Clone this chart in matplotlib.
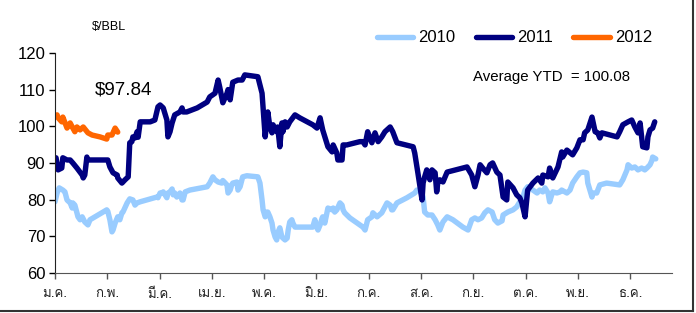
from matplotlib import pyplot as plt
from matplotlib import font_manager, ft2font
from matplotlib.lines import Line2D

# x positions are in months from the start of January (0 = ม.ค.)
months = ['ม.ค.', 'ก.พ.', 'มี.ค.', 'เม.ย.', 'พ.ค.', 'มิ.ย.',
          'ก.ค.', 'ส.ค.', 'ก.ย.', 'ต.ค.', 'พ.ย.', 'ธ.ค.']
years = ['2010', '2011', '2012']

x2010 = [0.00, 0.04, 0.08, 0.15, 0.19, 0.23, 0.29, 0.33, 0.34, 0.38, 0.44, 0.48, 0.52, 0.57, 0.63, 0.67,
         0.99, 1.01, 1.05, 1.09, 1.11, 1.15, 1.19, 1.20, 1.24, 1.28, 1.30, 1.38, 1.43, 1.49, 1.53, 1.57,
         1.63, 1.95, 1.97, 2.01, 2.05, 2.07, 2.14, 2.16, 2.20, 2.24, 2.26, 2.29, 2.33, 2.39, 2.43, 2.45,
         2.49, 2.58, 2.91, 2.96, 3.02, 3.06, 3.12, 3.19, 3.21, 3.29, 3.31, 3.35, 3.38, 3.40, 3.48, 3.50,
         3.54, 3.59, 3.67, 3.88, 3.92, 3.96, 3.98, 4.02, 4.05, 4.07, 4.11, 4.15, 4.17, 4.21, 4.24, 4.26,
         4.30, 4.34, 4.36, 4.40, 4.44, 4.46, 4.49, 4.53, 4.55, 4.59, 4.93, 4.97, 5.01, 5.03, 5.07, 5.11,
         5.12, 5.16, 5.20, 5.22, 5.30, 5.32, 5.35, 5.39, 5.45, 5.49, 5.51, 5.54, 5.64, 5.89, 5.93, 5.98,
         6.06, 6.08, 6.16, 6.25, 6.31, 6.35, 6.41, 6.44, 6.46, 6.54, 6.73, 6.88, 6.92, 6.98, 7.04, 7.07,
         7.13, 7.21, 7.27, 7.32, 7.36, 7.42, 7.50, 7.61, 7.80, 7.90, 7.97, 8.03, 8.09, 8.16, 8.22, 8.28,
         8.36, 8.41, 8.47, 8.55, 8.57, 8.66, 8.76, 8.83, 8.89, 8.95, 8.99, 9.04, 9.14, 9.22, 9.27, 9.33,
         9.37, 9.43, 9.46, 9.50, 9.52, 9.60, 9.66, 9.69, 9.79, 9.85, 9.90, 9.98, 10.04, 10.10, 10.17, 10.19,
         10.27, 10.29, 10.36, 10.42, 10.55, 10.80, 10.86, 10.94, 10.96, 11.03, 11.09, 11.15, 11.22, 11.28,
         11.32, 11.38, 11.42, 11.43, 11.49]
y2010 = [79.4, 81.8, 83.2, 82.6, 82.1, 79.9, 79.1, 77.7, 79.1, 78.5, 75.3, 74.5, 75.3, 73.9, 73.1, 74.5,
         77.2, 76.8, 74.5, 71.2, 71.7, 73.6, 75.0, 75.3, 74.5, 76.4, 76.6, 79.1, 80.2, 79.9, 78.5, 79.1,
         79.4, 80.7, 80.5, 81.8, 81.8, 82.1, 80.5, 81.8, 82.1, 82.9, 81.3, 81.8, 80.7, 81.8, 79.9, 79.9,
         82.1, 82.6, 83.5, 84.5, 86.2, 85.4, 84.8, 84.5, 85.2, 84.0, 81.8, 82.6, 84.0, 84.5, 84.8, 82.6,
         83.5, 86.2, 86.5, 86.2, 84.5, 79.9, 77.2, 75.3, 76.6, 76.6, 75.3, 73.6, 71.7, 69.8, 69.0, 70.9,
         72.3, 69.8, 69.5, 69.0, 69.5, 71.7, 73.9, 74.5, 73.6, 72.5, 72.5, 74.5, 72.3, 71.7, 73.1, 75.0,
         75.3, 73.6, 76.4, 77.7, 77.2, 77.7, 76.6, 77.2, 79.1, 78.5, 77.2, 76.4, 75.0, 72.5, 71.7, 74.5,
         75.3, 76.4, 75.3, 76.4, 78.0, 79.1, 78.5, 77.2, 77.2, 79.1, 80.5, 81.8, 82.6, 82.4, 80.7, 76.6,
         75.8, 75.8, 74.5, 73.1, 71.7, 73.9, 75.3, 74.5, 72.5, 71.7, 74.5, 75.0, 74.5, 75.0, 76.4, 77.2,
         76.6, 74.5, 73.6, 74.2, 75.8, 76.6, 77.2, 78.0, 79.4, 80.7, 82.6, 83.5, 82.6, 81.8, 82.6, 82.1,
         83.2, 81.8, 79.4, 81.3, 82.1, 81.8, 82.1, 82.6, 81.8, 82.6, 84.5, 86.2, 87.3, 87.5, 87.3, 84.5,
         80.7, 81.8, 81.8, 84.0, 84.5, 84.0, 85.4, 88.1, 89.5, 88.6, 88.9, 88.1, 88.6, 88.1,
         88.6, 89.5, 90.8, 91.6, 91.1]

x2011 = [0.02, 0.06, 0.13, 0.15, 0.23, 0.29, 0.34, 0.42, 0.52, 0.54, 0.57, 0.61, 0.63, 0.73, 1.01, 1.05,
         1.11, 1.19, 1.20, 1.28, 1.34, 1.40, 1.43, 1.47, 1.49, 1.53, 1.57, 1.59, 1.63, 1.82, 1.91, 1.97,
         2.01, 2.07, 2.14, 2.16, 2.20, 2.24, 2.29, 2.35, 2.39, 2.43, 2.45, 2.52, 2.72, 2.91, 2.96, 3.06,
         3.12, 3.15, 3.21, 3.29, 3.31, 3.35, 3.40, 3.50, 3.58, 3.63, 3.88, 3.96, 4.02, 4.07, 4.11, 4.15,
         4.17, 4.24, 4.26, 4.30, 4.34, 4.36, 4.40, 4.44, 4.49, 4.59, 4.68, 4.93, 5.01, 5.07, 5.12, 5.22,
         5.30, 5.32, 5.39, 5.41, 5.49, 5.51, 5.58, 5.83, 5.89, 5.93, 5.98, 6.06, 6.12, 6.18, 6.25, 6.31,
         6.41, 6.46, 6.54, 6.85, 6.88, 6.94, 7.02, 7.04, 7.07, 7.11, 7.17, 7.21, 7.27, 7.30, 7.32, 7.36,
         7.42, 7.50, 7.88, 7.97, 8.03, 8.09, 8.13, 8.18, 8.26, 8.32, 8.37, 8.45, 8.51, 8.57, 8.64, 8.66,
         8.76, 8.83, 8.89, 8.93, 8.99, 9.04, 9.14, 9.24, 9.31, 9.33, 9.43, 9.46, 9.52, 9.62, 9.69, 9.71,
         9.79, 9.90, 9.98, 10.04, 10.10, 10.13, 10.19, 10.27, 10.33, 10.38, 10.42, 10.46, 10.75, 10.80,
         10.86, 10.96, 11.03, 11.09, 11.15, 11.19, 11.22, 11.24, 11.32, 11.34, 11.38, 11.43, 11.47]
y2011 = [91.4, 88.1, 88.6, 91.4, 90.8, 90.8, 90.0, 88.6, 86.7, 85.9, 86.7, 91.6, 90.8, 90.8, 90.8, 88.9,
         87.3, 86.7, 85.9, 84.5, 85.4, 86.2, 95.5, 95.8, 97.1, 96.8, 98.5, 97.0, 101.2, 101.2, 101.7, 105.3,
         105.8, 105.0, 101.7, 97.1, 98.5, 100.9, 103.1, 103.6, 103.9, 105.0, 103.9, 103.9, 105.0, 106.6, 108.0, 109.0,
         112.6, 110.7, 106.4, 109.0, 110.0, 107.2, 112.0, 112.6, 112.6, 114.0, 113.5, 109.0, 97.1, 103.9, 99.8, 98.2,
         100.4, 98.5, 99.8, 94.4, 100.9, 98.5, 101.2, 99.8, 101.2, 103.1, 102.3, 100.4, 99.5, 102.3, 99.0, 94.4,
         93.0, 94.9, 92.7, 90.8, 90.8, 94.9, 94.9, 95.8, 95.8, 94.9, 98.5, 95.5, 98.2, 95.8, 97.1, 98.5,
         99.8, 98.5, 95.5, 94.4, 92.7, 87.3, 79.9, 84.5, 86.2, 88.1, 85.4, 88.1, 87.3, 82.1, 84.5, 85.4,
         84.8, 87.5, 88.9, 86.7, 83.5, 86.7, 89.5, 88.6, 87.3, 89.5, 90.0, 87.5, 86.7, 80.7, 79.9, 84.8,
         83.2, 81.3, 80.5, 79.1, 75.3, 82.6, 84.5, 85.9, 84.5, 86.7, 86.2, 88.6, 85.9, 88.9, 93.0, 91.6,
         93.5, 92.2, 94.1, 96.3, 96.3, 98.2, 99.0, 102.5, 98.5, 98.2, 96.8, 98.2, 97.1, 98.5,
         100.4, 101.2, 101.7, 99.8, 98.2, 100.9, 97.1, 94.4, 94.1, 97.1, 99.0, 99.5, 101.2]

x2012 = [0.04, 0.06, 0.13, 0.15, 0.23, 0.29, 0.33, 0.38, 0.42, 0.48, 0.54, 0.63, 0.71, 0.86, 0.99, 1.01,
         1.09, 1.15, 1.20]
y2012 = [103.1, 102.3, 101.2, 102.5, 99.5, 100.9, 99.8, 98.5, 99.8, 99.0, 99.8, 98.2, 97.6, 97.1, 96.5, 97.6,
         97.6, 99.5, 98.4]

colors = ['#99CCFF', '#000080', '#FF6600']


def thai_font():
    # pick any installed font that has Thai glyphs
    for f in font_manager.fontManager.ttflist:
        try:
            if 0x0E21 in ft2font.FT2Font(f.fname).get_charmap():
                return f.name
        except Exception:
            pass
    return 'DejaVu Sans'


plt.rcParams['font.family'] = ['Liberation Sans', 'DejaVu Sans']
thai = thai_font()

fig = plt.figure(figsize=(6.96, 3.13), dpi=100)
ax = fig.add_axes([0.079, 0.128, 0.8865, 0.703])

for xs, ys, c, label in zip([x2010, x2011, x2012], [y2010, y2011, y2012], colors, years):
    ax.plot(xs, ys, color=c, lw=3.9, label=label, solid_joinstyle='round', solid_capstyle='round')

ax.set_xlim(0, 11.8)
ax.set_ylim(60, 120)
ax.set_yticks(range(60, 121, 10))
ax.set_xticks(range(12))
ax.set_xticklabels(months, family=[thai, 'DejaVu Sans'], fontsize=9.5, color='#222222')
ax.tick_params(axis='y', labelsize=12, length=4, width=1, pad=3, direction='out')
ax.tick_params(axis='x', length=4, width=1, pad=7, color='#555555')

for side in ['top', 'right']:
    ax.spines[side].set_visible(False)
ax.spines['left'].set_color('#222222')
ax.spines['bottom'].set_color('#555555')

ax.text(0.76, 110, '$97.84', fontsize=13.5, va='center', ha='left')
ax.text(7.99, 113.5, 'Average YTD  = 100.08', fontsize=10.8, va='center', ha='left')
fig.text(0.132, 0.915, '$/BBL', fontsize=9, va='center', ha='left')

fig.legend(loc='center', bbox_to_anchor=(0.739, 0.879), ncol=3, frameon=False, fontsize=12,
           handlelength=2.2, handletextpad=0.3, columnspacing=1.2)

# frame lines on the right and bottom of the picture
fig.add_artist(Line2D([0, 0.996], [0.006, 0.006], color='#333333', lw=1.5, transform=fig.transFigure))
fig.add_artist(Line2D([0.996, 0.996], [0.006, 1], color='#333333', lw=1.5, transform=fig.transFigure))

fig.savefig('out.png', dpi=100)
